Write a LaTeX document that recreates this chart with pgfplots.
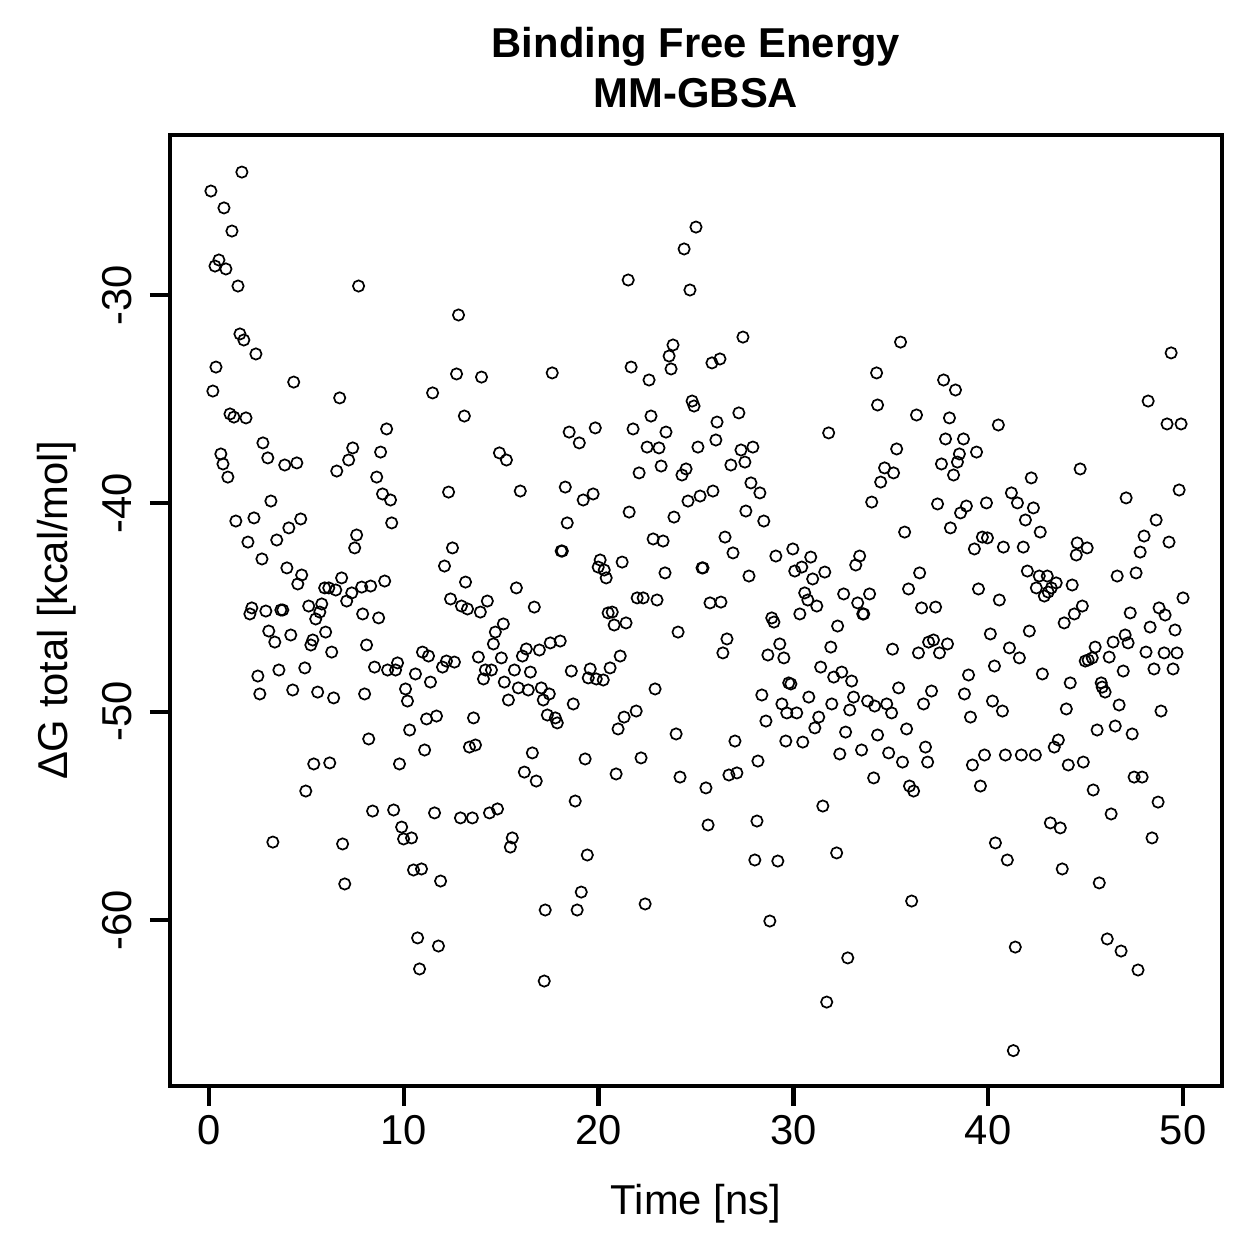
\documentclass[border=0pt]{standalone}
\usepackage{fontspec}
\setmainfont{Liberation Sans}
\usepackage{pgfplots}
\pgfplotsset{compat=1.18}
\newcommand{\lblfont}{\fontsize{16.7}{20}\selectfont}
\begin{document}
\begin{tikzpicture}
\useasboundingbox (-68pt,-69.2pt) rectangle (435.6pt,434.4pt);
\begin{axis}[
  scale only axis, width=420.8pt, height=380.4pt,
  at={(0,0)}, anchor=south west,
  xmin=-2, xmax=52, ymin=-67.968, ymax=-22.32,
  axis line style={line width=1.8pt},
  tick pos=left, tick align=outside,
  major tick length=8pt,
  every tick/.style={black, line width=1.7pt},
  xtick={0,10,20,30,40,50}, xticklabels={0,10,20,30,40,50},
  ytick={-60,-50,-40,-30}, yticklabels={-60,-50,-40,-30},
  tick label style={font=\lblfont, inner sep=0pt},
  xticklabel style={anchor=base},
  yticklabel style={rotate=90, anchor=base},
  xticklabel shift=15.4pt,
  yticklabel shift=7.2pt,
  xlabel={Time [ns]},
  xlabel style={at={(axis description cs:0.5,-0.1356)}, anchor=base, inner sep=0pt, font=\lblfont},
  ylabel={ΔG total [kcal/mol]},
  ylabel style={at={(axis description cs:-0.0979,0.5)}, anchor=base, inner sep=0pt, font=\lblfont},
  title={Binding Free Energy\\MM-GBSA},
  title style={at={(axis description cs:0.5,1.0121)}, anchor=south, inner sep=0pt, align=center, font=\bfseries\lblfont},
]
% MM-GBSA total binding free energy per frame
\addplot[only marks, mark=o, mark size=2.26pt, mark options={line width=0.68pt, black}] table {
t dG
1.69 -24.10
0.10 -25.01
0.77 -25.82
1.18 -26.93
0.51 -28.32
0.31 -28.61
0.87 -28.75
1.49 -29.57
7.68 -29.57
12.81 -30.96
1.59 -31.87
1.79 -32.16
2.41 -32.83
0.36 -33.46
4.35 -34.18
0.20 -34.61
6.71 -34.94
11.48 -34.70
12.71 -33.79
13.99 -33.94
17.62 -33.74
13.11 -35.81
1.08 -35.71
1.28 -35.86
1.90 -35.90
9.12 -36.43
2.77 -37.10
7.38 -37.34
8.81 -37.54
7.17 -37.92
14.91 -37.58
15.27 -37.92
0.61 -37.63
0.72 -38.11
3.02 -37.82
3.89 -38.16
4.51 -38.06
6.56 -38.45
0.97 -38.74
8.61 -38.74
8.91 -39.55
9.32 -39.84
12.30 -39.46
15.98 -39.41
3.18 -39.89
1.38 -40.85
2.31 -40.70
4.71 -40.75
4.10 -41.18
2.00 -41.86
3.48 -41.76
7.58 -41.52
7.48 -42.14
9.38 -40.94
2.72 -42.67
4.00 -43.10
4.76 -43.44
4.56 -43.87
12.50 -42.14
12.09 -43.01
13.17 -43.78
15.78 -44.06
6.81 -43.58
5.94 -44.06
6.15 -44.06
6.51 -44.16
7.33 -44.30
7.84 -44.02
8.30 -43.97
9.02 -43.73
7.07 -44.69
2.20 -45.02
2.10 -45.31
2.92 -45.17
3.69 -45.12
3.79 -45.12
5.12 -44.93
5.79 -44.83
5.69 -45.22
5.48 -45.55
7.89 -45.31
8.71 -45.50
12.40 -44.59
12.96 -44.93
13.27 -45.07
13.93 -45.22
14.29 -44.69
16.70 -44.98
3.07 -46.13
3.38 -46.66
4.20 -46.32
5.33 -46.56
5.23 -46.80
5.99 -46.18
6.30 -47.14
8.09 -46.80
15.11 -45.79
14.70 -46.18
14.60 -46.75
10.96 -47.14
11.27 -47.33
13.83 -47.38
15.01 -47.42
16.29 -46.99
16.96 -47.04
16.09 -47.33
17.52 -46.70
2.51 -48.29
3.59 -48.00
4.92 -47.90
8.50 -47.86
9.68 -47.66
9.17 -48.00
9.58 -48.00
10.60 -48.19
12.19 -47.57
12.60 -47.62
11.99 -47.86
11.37 -48.58
14.19 -48.00
14.50 -48.00
14.09 -48.43
15.68 -48.00
16.50 -48.10
15.16 -48.58
2.61 -49.15
4.30 -48.96
5.58 -49.06
6.40 -49.34
7.99 -49.15
10.09 -48.91
10.19 -49.49
15.88 -48.86
16.39 -48.96
17.06 -48.86
17.16 -49.44
15.37 -49.44
17.47 -49.15
11.17 -50.35
11.68 -50.21
13.58 -50.30
10.30 -50.88
17.37 -50.16
8.20 -51.31
13.37 -51.70
13.68 -51.60
11.07 -51.84
16.60 -51.98
5.38 -52.51
6.20 -52.46
9.78 -52.51
16.19 -52.90
16.80 -53.33
4.97 -53.81
8.40 -54.77
9.48 -54.72
11.58 -54.86
12.91 -55.10
13.52 -55.10
14.40 -54.86
14.81 -54.67
9.89 -55.54
9.99 -56.11
10.40 -56.06
15.57 -56.06
15.47 -56.50
3.28 -56.26
6.86 -56.35
10.50 -57.60
10.91 -57.55
11.89 -58.13
6.97 -58.27
17.26 -59.52
10.71 -60.86
11.78 -61.25
10.81 -62.35
17.21 -62.93
25.00 -26.74
24.39 -27.79
21.52 -29.28
24.69 -29.76
27.41 -32.02
23.82 -32.40
23.62 -32.93
23.72 -33.55
21.67 -33.46
22.59 -34.08
25.82 -33.26
26.23 -33.07
34.27 -33.74
34.32 -35.28
24.80 -35.09
24.90 -35.33
22.69 -35.81
27.20 -35.66
26.08 -36.10
19.83 -36.38
18.49 -36.58
19.01 -37.10
21.77 -36.43
23.46 -36.58
31.81 -36.62
22.49 -37.30
23.10 -37.34
25.10 -37.30
26.02 -36.96
27.31 -37.44
27.92 -37.30
26.79 -38.16
27.51 -38.02
23.21 -38.21
22.08 -38.54
24.49 -38.35
24.28 -38.64
18.29 -39.22
19.21 -39.84
19.72 -39.55
21.57 -40.42
18.39 -40.94
23.87 -40.66
24.59 -39.89
25.21 -39.65
25.87 -39.41
27.82 -39.02
28.28 -39.50
27.56 -40.37
28.48 -40.85
34.02 -39.94
34.48 -38.98
22.80 -41.71
23.31 -41.81
26.49 -41.62
26.90 -42.38
18.08 -42.29
18.14 -42.29
20.08 -42.72
19.98 -43.06
20.29 -43.20
20.39 -43.58
21.21 -42.82
23.41 -43.34
25.31 -43.10
25.36 -43.10
27.72 -43.49
29.10 -42.53
29.97 -42.19
30.89 -42.58
30.07 -43.25
30.43 -43.06
30.99 -43.63
31.61 -43.30
33.40 -42.53
33.20 -42.96
21.98 -44.54
22.29 -44.54
23.00 -44.64
25.72 -44.78
26.28 -44.74
30.58 -44.30
30.74 -44.64
31.20 -44.93
32.58 -44.35
33.30 -44.78
33.91 -44.35
33.56 -45.31
33.61 -45.31
30.33 -45.31
20.49 -45.26
20.70 -45.22
20.80 -45.84
21.41 -45.74
28.89 -45.50
29.00 -45.70
32.27 -45.89
24.08 -46.18
18.03 -46.61
26.59 -46.51
26.38 -47.18
29.30 -46.75
28.69 -47.28
29.51 -47.42
31.92 -46.90
21.11 -47.33
20.59 -47.90
18.60 -48.05
19.57 -47.95
19.47 -48.38
19.88 -48.43
20.24 -48.48
31.40 -47.86
32.48 -48.10
32.07 -48.34
32.99 -48.53
29.76 -48.62
29.87 -48.67
22.90 -48.91
28.38 -49.20
30.79 -49.30
29.41 -49.63
29.66 -50.06
30.17 -50.06
31.97 -49.63
33.09 -49.30
33.81 -49.49
34.17 -49.73
32.89 -49.92
18.70 -49.63
17.78 -50.30
17.88 -50.54
21.31 -50.26
21.93 -49.97
21.00 -50.83
28.59 -50.45
31.30 -50.26
31.10 -50.78
23.98 -51.07
27.00 -51.41
29.61 -51.41
30.48 -51.46
32.68 -50.98
33.50 -51.84
32.38 -52.03
34.32 -51.12
19.31 -52.27
22.18 -52.22
28.18 -52.37
20.90 -52.99
24.18 -53.14
26.69 -53.04
27.10 -52.94
34.12 -53.18
25.51 -53.66
18.80 -54.29
25.62 -55.44
28.13 -55.25
31.51 -54.53
19.42 -56.88
28.02 -57.12
29.20 -57.17
32.22 -56.78
19.11 -58.66
18.90 -59.52
22.39 -59.23
28.79 -60.05
32.79 -61.82
31.71 -63.94
35.50 -32.26
37.71 -34.08
38.32 -34.56
36.32 -35.76
38.01 -35.90
40.52 -36.24
37.81 -36.91
38.73 -36.91
35.30 -37.39
39.40 -37.54
38.52 -37.63
38.42 -38.02
37.60 -38.11
34.68 -38.30
35.14 -38.54
44.72 -38.35
49.39 -32.78
48.21 -35.09
49.18 -36.19
49.90 -36.19
38.22 -38.64
42.21 -38.78
49.80 -39.36
47.08 -39.74
37.40 -40.03
38.88 -40.13
38.58 -40.46
39.91 -39.98
41.19 -39.50
41.50 -39.98
42.32 -40.22
41.91 -40.80
42.67 -41.38
38.06 -41.18
35.71 -41.38
48.62 -40.80
48.00 -41.57
47.80 -42.34
49.28 -41.86
39.70 -41.62
39.96 -41.66
39.29 -42.19
40.78 -42.10
41.80 -42.10
44.57 -41.90
45.08 -42.14
44.52 -42.48
36.48 -43.34
35.91 -44.11
39.50 -44.11
40.57 -44.64
42.01 -43.25
42.62 -43.49
43.03 -43.49
42.47 -44.06
43.49 -43.82
43.24 -44.06
42.88 -44.45
43.08 -44.26
44.31 -43.92
46.62 -43.49
47.59 -43.34
50.00 -44.54
36.58 -45.02
37.30 -44.98
44.83 -44.93
44.42 -45.31
43.90 -45.74
47.29 -45.26
48.77 -45.02
49.08 -45.36
48.31 -45.94
49.59 -46.08
42.11 -46.13
40.11 -46.27
35.09 -47.00
36.94 -46.66
37.19 -46.56
37.91 -46.75
36.42 -47.18
37.50 -47.18
41.09 -46.94
41.60 -47.42
40.32 -47.81
45.49 -46.90
46.41 -46.66
47.03 -46.32
47.18 -46.70
44.98 -47.57
45.13 -47.52
45.34 -47.42
46.21 -47.38
46.93 -48.05
48.10 -47.14
49.03 -47.18
49.69 -47.18
48.51 -47.95
49.49 -47.95
38.99 -48.24
42.78 -48.19
44.21 -48.62
45.80 -48.62
45.85 -48.82
46.00 -49.06
46.72 -49.68
48.87 -49.97
44.01 -49.87
35.40 -48.86
37.09 -49.01
36.68 -49.63
38.78 -49.15
34.79 -49.63
35.04 -50.06
40.22 -49.49
40.73 -49.97
39.09 -50.26
35.81 -50.83
36.78 -51.70
34.89 -51.98
35.60 -52.42
36.89 -52.42
39.81 -52.08
39.19 -52.56
40.88 -52.08
41.70 -52.08
42.42 -52.08
43.60 -51.36
43.39 -51.70
44.11 -52.56
44.88 -52.42
45.59 -50.88
46.52 -50.69
47.39 -51.07
47.49 -53.14
47.90 -53.14
35.96 -53.57
36.17 -53.81
39.60 -53.57
45.39 -53.76
48.72 -54.34
46.31 -54.91
43.19 -55.34
43.70 -55.58
48.41 -56.06
40.37 -56.30
40.98 -57.12
43.80 -57.55
45.70 -58.22
36.07 -59.09
41.39 -61.30
46.11 -60.91
46.82 -61.49
47.69 -62.40
41.29 -66.27
};
\end{axis}
\end{tikzpicture}
\end{document}
